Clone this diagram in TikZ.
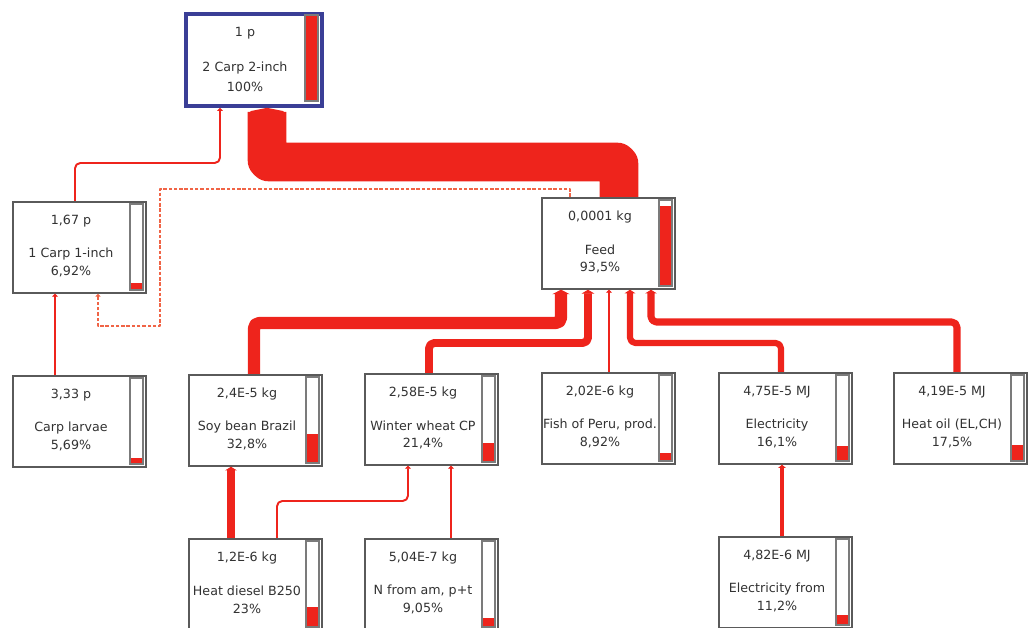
\documentclass[tikz,border=0pt]{standalone}
\usepackage{fontspec}
\setmainfont{DejaVu Sans}
\usetikzlibrary{arrows.meta,calc}
\definecolor{flowred}{RGB}{238,36,28}
\definecolor{dashred}{RGB}{240,100,70}
\definecolor{boxgray}{RGB}{90,90,90}
\definecolor{txtgray}{RGB}{50,50,50}
\definecolor{topblue}{RGB}{58,62,150}
\tikzstyle{proc} = [rectangle, draw=boxgray, line width=1pt, fill=white, inner sep=0pt, %
minimum width=2.66cm, minimum height=1.82cm, anchor=north west]
\tikzstyle{proctext} = [text=txtgray, font=\fontsize{7.2}{9}\selectfont, inner sep=0pt]
\tikzstyle{bar} = [draw=boxgray!80, line width=0.7pt, fill=white]
\tikzstyle{flow} = [draw=flowred, line width=1.1pt, rounded corners=3pt, line join=round, %
-{Triangle[width=2pt 1.15, length=1.5pt 0.15]}]
% box with amount, name, share and a bar
\newcommand{\procbox}[7]{%
  \node[proc] (#1) at (#2,#3) {};
  \node[proctext] (#1-val) at ({#2+59},{#3+20}) {#4};
  \node[proctext] (#1-name) at ({#2+59},{#3+53}) {#5};
  \node[proctext] (#1-pct) at ({#2+59},{#3+71}) {#7};
  \draw[bar] ({#2+118},{#3+3}) rectangle ({#2+131},{#3+89});
  \fill[flowred] ({#2+119},{#3+88}) rectangle ({#2+130},{#3+88-0.84*#6});
}

\begin{document}
\begin{tikzpicture}[x=0.02cm, y=-0.02cm]
    \useasboundingbox (0,0) rectangle (1029,628);
    % top box
    \node[proc, draw=topblue, line width=2.2pt, minimum width=2.72cm, minimum height=1.84cm] (carpTwo) at (184,12) {};
    \node[proctext] (carpTwo-val) at (245,33) {1 p};
    \node[proctext] (carpTwo-name) at (245,68) {2 Carp 2-inch};
    \node[proctext] (carpTwo-pct) at (245,87) {100\%};
    \draw[bar] (305,15) rectangle (318,101);
    \fill[flowred] (306,16) rectangle (317,100);
    % process boxes
    \procbox{carpOne}{12}{201}{1,67 p}{1 Carp 1-inch}{6.92}{6,92\%}
    \procbox{larvae}{12}{375}{3,33 p}{Carp larvae}{5.69}{5,69\%}
    \procbox{feed}{541}{197}{0,0001 kg}{Feed}{93.5}{93,5\%}
    \procbox{soy}{188}{374}{2,4E-5 kg}{Soy bean Brazil}{32.8}{32,8\%}
    \procbox{wheat}{364}{373}{2,58E-5 kg}{Winter wheat CP}{21.4}{21,4\%}
    \procbox{fish}{541}{372}{2,02E-6 kg}{Fish of Peru, prod.}{8.92}{8,92\%}
    \procbox{elec}{718}{372}{4,75E-5 MJ}{Electricity}{16.1}{16,1\%}
    \procbox{heatoil}{893}{372}{4,19E-5 MJ}{Heat oil (EL,CH)}{17.5}{17,5\%}
    \procbox{diesel}{188}{538}{1,2E-6 kg}{Heat diesel B250}{23}{23\%}
    \procbox{nitro}{364}{538}{5,04E-7 kg}{N from am, p+t}{9.05}{9,05\%}
    \procbox{elecfrom}{718}{536}{4,82E-6 MJ}{Electricity from}{11.2}{11,2\%}
    % draw arrows
    \path[flow, line width=22pt, rounded corners=1pt, -{Triangle[width=25pt, length=2.5pt]}] %
      (feed.north -| 619,0) |- (267,162) -- (carpTwo.south -| 267,0);
    \path[flow] (carpOne.north -| 75,0) |- (220,163) -- (carpTwo.south -| 220,0);
    \path[flow, draw=dashred, line width=0.7pt, rounded corners=0pt, dash pattern=on 2pt off 1pt] %
      (feed.north -| 570,0) |- (160,189) -- (160,326) -| (carpOne.south -| 98,0);
    \path[flow] (larvae.north -| 55,0) -- (carpOne.south -| 55,0);
    \path[flow, line width=7pt] (soy.north -| 254,0) |- (561,323) -- (feed.south -| 561,0);
    \path[flow, line width=4.5pt] (wheat.north -| 429,0) |- (588,343) -- (feed.south -| 588,0);
    \path[flow] (fish.north -| 609,0) -- (feed.south -| 609,0);
    \path[flow, line width=3.5pt] (elec.north -| 781,0) |- (630,343) -- (feed.south -| 630,0);
    \path[flow, line width=4pt] (heatoil.north -| 957,0) |- (651,322) -- (feed.south -| 651,0);
    \path[flow, line width=4pt] (diesel.north -| 231,0) -- (soy.south -| 231,0);
    \path[flow] (diesel.north -| 277,0) |- (408,501) -- (wheat.south -| 408,0);
    \path[flow] (nitro.north -| 451,0) -- (wheat.south -| 451,0);
    \path[flow, line width=2pt] (elecfrom.north -| 782,0) -- (elec.south -| 782,0);
\end{tikzpicture}
\end{document}
